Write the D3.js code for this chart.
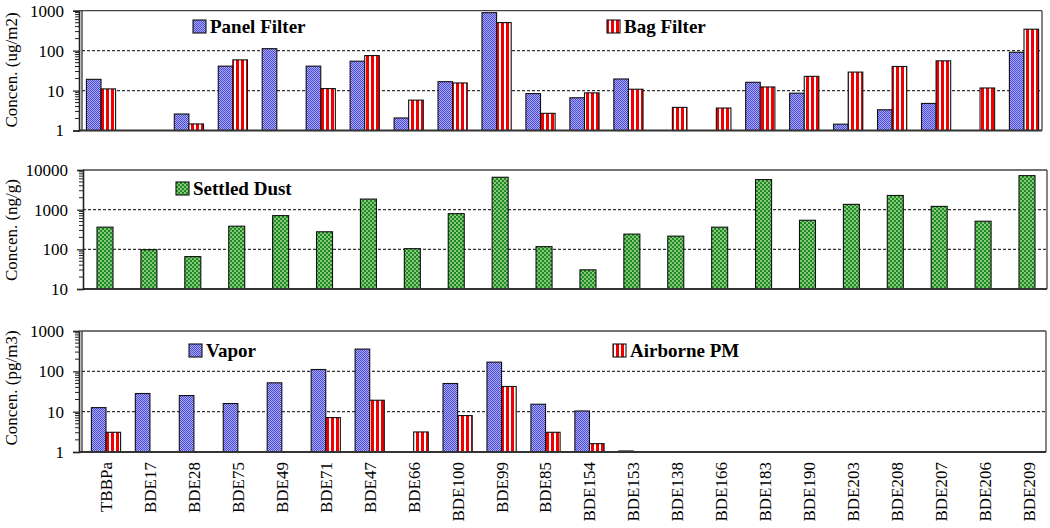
<!DOCTYPE html>
<html><head><meta charset="utf-8">
<script src="https://cdn.jsdelivr.net/npm/d3@7"></script>
<style>html,body{margin:0;padding:0;background:#fff}svg{display:block}</style>
</head><body>
<svg id="chart" width="1050" height="528"></svg>
<script>
const categories = ["TBBPa","BDE17","BDE28","BDE75","BDE49","BDE71","BDE47","BDE66","BDE100","BDE99","BDE85","BDE154","BDE153","BDE138","BDE166","BDE183","BDE190","BDE203","BDE208","BDE207","BDE206","BDE209"];
const panelFilter = [19.1,null,2.59,40.9,112,40.9,54.4,2.06,16.7,892,8.4,6.6,19.5,null,null,16.1,8.6,1.44,3.3,4.76,null,91];
const bagFilter   = [11.0,null,1.46,58.7,null,11.2,75.2,5.76,15.5,504,2.69,8.75,10.8,3.79,3.65,12.3,22.7,29.0,40.1,55.5,11.6,344];
const settledDust = [362,98,65.6,383,708,277,1849,104,794,6560,117,30.4,242,215,362,5730,541,1360,2280,1210,511,7210];
const vapor       = [12.6,28.2,25.1,15.9,51.9,111,356,null,49.9,169,15.3,10.4,1.06,null,null,null,null,null,null,null,null,null];
const airbornePM  = [3.08,null,null,null,null,7.13,19.2,3.14,8.0,42.1,3.08,1.61,null,null,null,null,null,null,null,null,null,null];
const ticksTop = [1,10,100,1000];
const ticksMid = [10,100,1000,10000];
const ticksBot = [1,10,100,1000];
const titleTop = "Concen. (ug/m2)", titleMid = "Concen. (ng/g)", titleBot = "Concen. (pg/m3)";

const svg = d3.select("#chart");
const serif = "'Liberation Serif','Times New Roman',serif";
const defs = svg.append("defs");

// patterns
const pB = defs.append("pattern").attr("id","pBlue").attr("patternUnits","userSpaceOnUse").attr("width",2).attr("height",2);
pB.append("rect").attr("width",2).attr("height",2).attr("fill","#a9a9f7");
pB.append("rect").attr("width",1).attr("height",1).attr("fill","#4c4cd6");
pB.append("rect").attr("x",1).attr("y",1).attr("width",1).attr("height",1).attr("fill","#4c4cd6");

const pR = defs.append("pattern").attr("id","pRed").attr("patternUnits","userSpaceOnUse").attr("width",5).attr("height",5);
pR.append("rect").attr("width",5).attr("height",5).attr("fill","#ffffff");
pR.append("rect").attr("x",1).attr("width",3).attr("height",5).attr("fill","#f00000");

const pG = defs.append("pattern").attr("id","pGreen").attr("patternUnits","userSpaceOnUse").attr("width",4).attr("height",4);
pG.append("rect").attr("width",4).attr("height",4).attr("fill","#1f8a1f");
pG.append("circle").attr("cx",1).attr("cy",1).attr("r",0.9).attr("fill","#b9e6b0");
pG.append("circle").attr("cx",3).attr("cy",3).attr("r",0.9).attr("fill","#b9e6b0");

const panels = [
  {top:10.7, bottom:130.5, ticks:ticksTop, axisX:79, boxL:82, boxR:1042, xr:[101,1024], title:titleTop, titleY:70,
   series:[{vals:panelFilter, fill:"url(#pBlue)", off:-1},{vals:bagFilter, fill:"url(#pRed)", off:0}], bw:14.6,
   legend:[{x:193,y:20,fill:"url(#pBlue)",label:"Panel Filter"},{x:607,y:20,fill:"url(#pRed)",label:"Bag Filter"}]},
  {top:170, bottom:289, ticks:ticksMid, axisX:83, boxL:83, boxR:1047, xr:[105,1027], title:titleMid, titleY:230,
   series:[{vals:settledDust, fill:"url(#pGreen)", off:-0.5}], bw:16,
   legend:[{x:176,y:182,fill:"url(#pGreen)",label:"Settled Dust"}]},
  {top:331, bottom:452, ticks:ticksBot, axisX:79, boxL:82, boxR:1046, xr:[106,1029], title:titleBot, titleY:388,
   series:[{vals:vapor, fill:"url(#pBlue)", off:-1},{vals:airbornePM, fill:"url(#pRed)", off:0}], bw:14.6,
   legend:[{x:189,y:344,fill:"url(#pBlue)",label:"Vapor"},{x:613,y:344,fill:"url(#pRed)",label:"Airborne PM"}]}
];

panels.forEach((p, pi) => {
  const dom = [p.ticks[0], p.ticks[p.ticks.length-1]];
  const y = d3.scaleLog().domain(dom).range([p.bottom, p.top]);
  const x = d3.scalePoint().domain(categories).range(p.xr);
  const g = svg.append("g");

  // gridlines (inner major ticks)
  g.selectAll("line.grid").data(p.ticks.slice(1,-1)).join("line")
    .attr("x1",p.boxL).attr("x2",p.boxR).attr("y1",d=>y(d)).attr("y2",d=>y(d))
    .attr("stroke","#333").attr("stroke-width",1.2).attr("stroke-dasharray","3,2");

  // box
  g.append("line").attr("x1",p.boxL).attr("x2",p.boxR).attr("y1",p.top).attr("y2",p.top).attr("stroke","#444").attr("stroke-width",1.3);
  g.append("line").attr("x1",p.boxR).attr("x2",p.boxR).attr("y1",p.top).attr("y2",p.bottom).attr("stroke","#444").attr("stroke-width",1.3);

  // bars
  p.series.forEach(s => {
    const data = categories.map((c,i)=>({c, v:s.vals[i]})).filter(d=>d.v!=null);
    g.selectAll(null).data(data).join("rect")
      .attr("x", d => x(d.c) + s.off*p.bw)
      .attr("y", d => y(d.v))
      .attr("width", p.bw)
      .attr("height", d => Math.max(0.5, y(dom[0]) - y(d.v)))
      .attr("fill", s.fill)
      .attr("stroke","#111").attr("stroke-width",1.1);
  });

  // bottom axis line
  g.append("line").attr("x1",p.axisX).attr("x2",p.boxR).attr("y1",p.bottom).attr("y2",p.bottom).attr("stroke","#333").attr("stroke-width",1.8);

  // y axis
  const ax = d3.axisLeft(y).tickValues(p.ticks).tickFormat(d3.format("d")).tickSize(6).tickPadding(9);
  const ag = g.append("g").attr("transform",`translate(${p.axisX},0)`).call(ax);
  ag.select(".domain").attr("stroke","#222").attr("stroke-width",1.6);
  ag.selectAll(".tick line").attr("stroke","#222").attr("stroke-width",1.2);
  ag.selectAll("text").attr("font-family",serif).attr("font-size",17).attr("fill","#000");
  // minor ticks
  const minors = [];
  for (let d = dom[0]; d < dom[1]; d *= 10) for (let k = 2; k <= 9; k++) minors.push(d*k);
  ag.selectAll("line.minor").data(minors).join("line").attr("class","minor")
    .attr("x1",-4).attr("x2",0).attr("y1",d=>y(d)).attr("y2",d=>y(d)).attr("stroke","#222").attr("stroke-width",1);
  if (p.boxL !== p.axisX) {
    g.append("line").attr("x1",p.boxL).attr("x2",p.boxL).attr("y1",p.top).attr("y2",p.bottom).attr("stroke","#333").attr("stroke-width",1.3);
    g.append("line").attr("x1",p.axisX).attr("x2",p.boxL).attr("y1",p.top).attr("y2",p.top).attr("stroke","#444").attr("stroke-width",1.3);
  }

  // y title
  g.append("text").attr("transform",`translate(11,${p.titleY}) rotate(-90)`)
    .attr("text-anchor","middle").attr("dy","0.35em")
    .attr("font-family",serif).attr("font-size",17).attr("fill","#000").text(p.title);

  // legend
  p.legend.forEach(l => {
    g.append("rect").attr("x",l.x).attr("y",l.y).attr("width",13).attr("height",13)
      .attr("fill",l.fill).attr("stroke","#111").attr("stroke-width",1.1);
    g.append("text").attr("x",l.x+17).attr("y",l.y+13)
      .attr("font-family",serif).attr("font-size",19).attr("font-weight","bold").attr("fill","#000").text(l.label);
  });

  // x labels on last panel
  if (pi === panels.length-1) {
    g.selectAll("text.xl").data(categories).join("text").attr("class","xl")
      .attr("transform", d => `translate(${x(d)},462) rotate(-90)`)
      .attr("text-anchor","end").attr("dy","0.35em")
      .attr("font-family",serif).attr("font-size",17).attr("fill","#000").text(d=>d);
  }
});
</script>
</body></html>
